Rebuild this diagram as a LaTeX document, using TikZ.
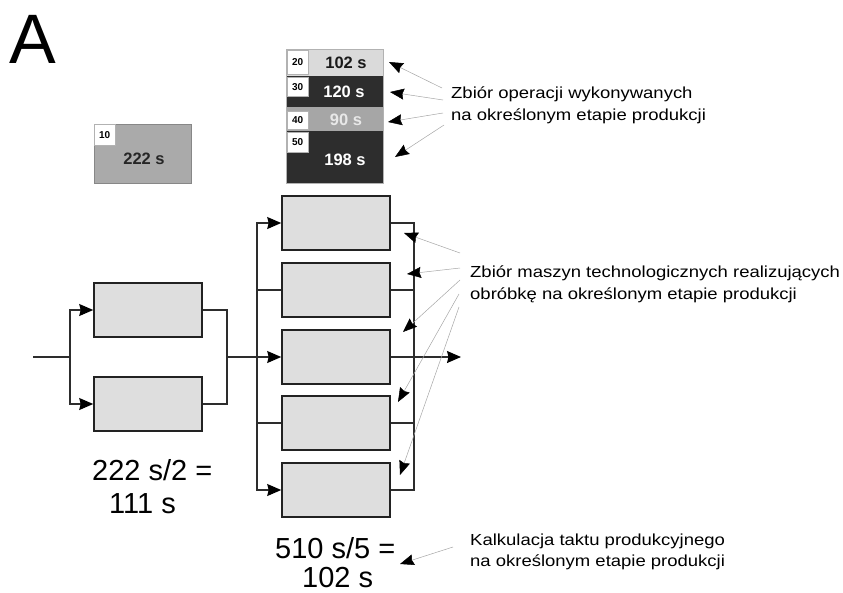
\documentclass[tikz,border=0pt]{standalone}
\usepackage{fontspec}
\setmainfont{Liberation Sans}
\newfontfamily\widesans[FakeStretch=1.155]{Liberation Sans}
\usetikzlibrary{arrows.meta}
\definecolor{machfill}{RGB}{222,222,222}
\definecolor{boxline}{RGB}{34,34,34}
\definecolor{conn}{RGB}{45,45,45}
\definecolor{tenfill}{RGB}{170,170,170}
\definecolor{tenline}{RGB}{135,135,135}
\definecolor{rowlight}{RGB}{218,218,218}
\definecolor{rowdark}{RGB}{45,45,45}
\definecolor{rowmid}{RGB}{166,166,166}
\definecolor{textpale}{RGB}{232,232,232}
\begin{document}
\begin{tikzpicture}[x=1pt,y=-1pt,
  machine/.style={draw=boxline, line width=1.6pt, fill=machfill, minimum width=108pt, minimum height=54pt, inner sep=0pt},
  flow/.style={draw=conn, line width=1.1pt, -{Stealth[length=14pt,width=12pt,inset=1.5pt,color=black]}},
  wire/.style={draw=conn, line width=1.1pt},
  note/.style={draw=gray!70, line width=0.5pt, -{Stealth[length=14pt,width=11pt,inset=1.5pt,color=black]}},
  opsrow/.style={anchor=north west, minimum width=97pt, inner sep=0pt, outer sep=0pt},
  tag/.style={anchor=north west, draw=gray!60, line width=0.4pt, fill=white, minimum width=21pt, inner sep=0pt, font=\fontsize{10}{12}\selectfont\bfseries},
  optime/.style={anchor=base, inner sep=0pt, font=\fontsize{16.5}{19}\selectfont\bfseries},
  label/.style={anchor=base west, inner sep=0pt, font=\widesans\fontsize{16}{19}\selectfont, align=left},
  calc/.style={anchor=base west, inner sep=0pt, font=\fontsize{29}{33}\selectfont}
]
\useasboundingbox (0,0) rectangle (843,592);

% big letter
\node[anchor=base west, inner sep=0pt, font=\fontsize{70}{72}\selectfont] (letter) at (9,63) {A};

% single operation box 10
\node[anchor=north west, draw=tenline, line width=0.6pt, fill=tenfill, minimum width=97pt, minimum height=59pt, inner sep=0pt] (op10) at (94,124) {};
\node[tag, minimum height=21pt] (t10) at (94,124) {10};
\node[optime, text=black!85] (v10) at (144,164) {222 s};

% stack of operations
\node[opsrow, fill=rowlight, minimum height=27pt] (r20) at (286,49) {};
\node[opsrow, fill=rowdark, minimum height=31pt] (r30) at (286,76) {};
\node[opsrow, fill=rowmid, minimum height=24pt] (r40) at (286,107) {};
\node[opsrow, fill=rowdark, minimum height=52pt] (r50) at (286,131) {};
\draw[gray!60, line width=0.5pt] (r20.north west) rectangle (r50.south east);
\node[tag, minimum height=24pt] (t20) at (287,50) {20};
\node[tag, minimum height=19pt] (t30) at (287,77) {30};
\node[tag, minimum height=18pt] (t40) at (287,111) {40};
\node[tag, minimum height=20pt] (t50) at (287,132) {50};
\node[optime, text=black!90] (v20) at (346,68) {102 s};
\node[optime, text=white] (v30) at (344,97) {120 s};
\node[optime, text=textpale] (v40) at (346,125) {90 s};
\node[optime, text=white] (v50) at (345,165) {198 s};

% stage 1 machines
\node[machine] (s1a) at (148,310) {};
\node[machine] (s1b) at (148,404) {};
% stage 2 machines
\node[machine] (s2a) at (336,223) {};
\node[machine] (s2b) at (336,290) {};
\node[machine] (s2c) at (336,357) {};
\node[machine] (s2d) at (336,423) {};
\node[machine] (s2e) at (336,490) {};

% connectors
\coordinate (in0) at (33,357);
\coordinate (j1) at (70,357);
\coordinate (j2) at (227,357);
\coordinate (Lbus) at (257,357);
\coordinate (Rbus) at (414,357);
\coordinate (out0) at (461,357);
\draw[wire] (in0) -- (j1);
\draw[flow] (j1) |- (s1a);
\draw[flow] (j1) |- (s1b);
\draw[wire] (s1a) -| (j2);
\draw[wire] (s1b) -| (j2);
\draw[flow] (j2) -- (s2c);
\draw[flow] (Lbus) |- (s2a);
\draw[flow] (Lbus) |- (s2e);
\draw[wire] (Lbus) |- (s2b);
\draw[wire] (Lbus) |- (s2d);
\draw[wire] (s2a) -| (Rbus);
\draw[wire] (s2b) -| (Rbus);
\draw[wire] (s2d) -| (Rbus);
\draw[wire] (s2e) -| (Rbus);
\draw[flow] (s2c) -- (out0);

% labels (anchor = baseline of last line)
\node[label] (lops) at (451,120) {Zbiór operacji wykonywanych\\[2.5pt]na określonym etapie produkcji};
\node[label] (lmach) at (470,299) {Zbiór maszyn technologicznych realizujących\\[2.5pt]obróbkę na określonym etapie produkcji};
\node[label] (lcalc) at (470,566) {Kalkulacja taktu produkcyjnego\\[1.5pt]na określonym etapie produkcji};
\node[calc] (c1a) at (92,480) {222 s/2 =};
\node[calc] (c1b) at (109,513) {111 s};
\node[calc] (c2a) at (275,558) {510 s/5 =};
\node[calc] (c2b) at (302,587) {102 s};

% annotation arrows: operations
\coordinate (o1s) at (442,88);  \coordinate (o1t) at (389,62);
\coordinate (o2s) at (443,100); \coordinate (o2t) at (390,92);
\coordinate (o3s) at (443,113); \coordinate (o3t) at (388,122);
\coordinate (o4s) at (444,125); \coordinate (o4t) at (395,157);
\draw[note] (o1s) -- (o1t);
\draw[note] (o2s) -- (o2t);
\draw[note] (o3s) -- (o3t);
\draw[note] (o4s) -- (o4t);
% annotation arrows: machines
\coordinate (m1s) at (460,253); \coordinate (m1t) at (404,233);
\coordinate (m2s) at (460,268); \coordinate (m2t) at (407,274);
\coordinate (m3s) at (460,280); \coordinate (m3t) at (403,332);
\coordinate (m4s) at (459,294); \coordinate (m4t) at (398,402);
\coordinate (m5s) at (459,307); \coordinate (m5t) at (400,475);
\draw[note] (m1s) -- (m1t);
\draw[note] (m2s) -- (m2t);
\draw[note] (m3s) -- (m3t);
\draw[note] (m4s) -- (m4t);
\draw[note] (m5s) -- (m5t);
% annotation arrow: calculation
\coordinate (k1s) at (453,547); \coordinate (k1t) at (400,564);
\draw[note] (k1s) -- (k1t);
\end{tikzpicture}
\end{document}
